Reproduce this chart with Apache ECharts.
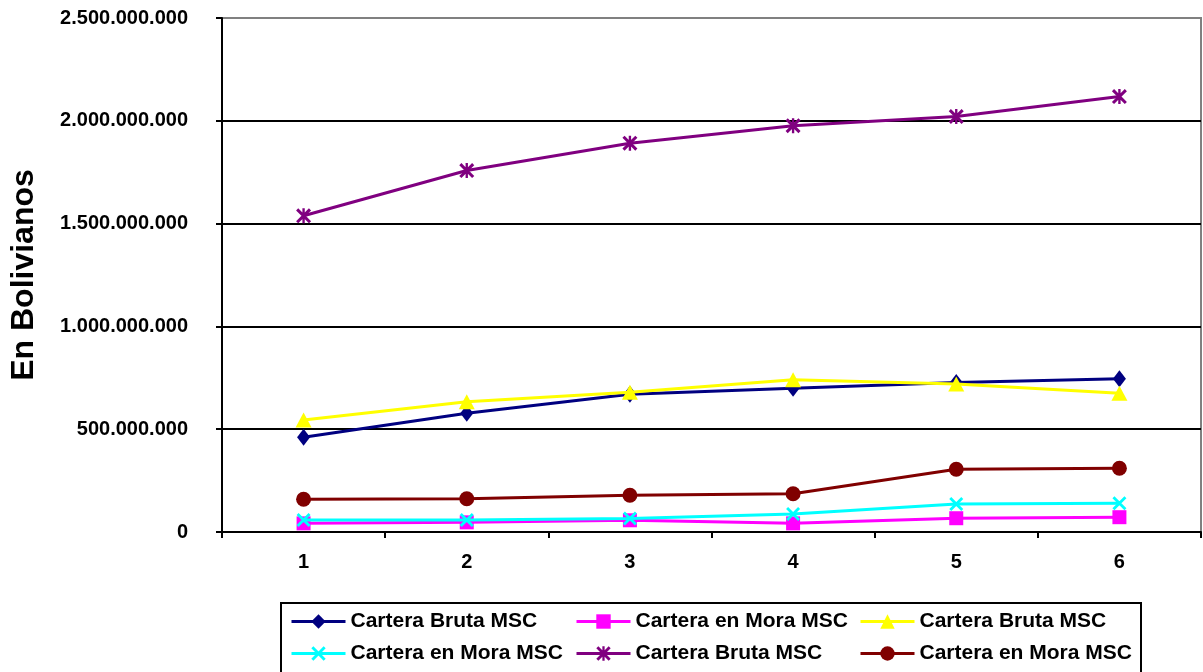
<!DOCTYPE html>
<html>
<head>
<meta charset="utf-8">
<script src="https://cdn.jsdelivr.net/npm/echarts@6/dist/echarts.min.js"></script>
<style>
html,body{margin:0;padding:0;background:#fff;}
#chart{width:1203px;height:672px;}
</style>
</head>
<body>
<div id="chart"></div>
<script>
// ---- data ----
var categories = ['1', '2', '3', '4', '5', '6'];
var seriesNames = ['Cartera Bruta MSC', 'Cartera en Mora MSC', 'Cartera Bruta MSC', 'Cartera en Mora MSC', 'Cartera Bruta MSC', 'Cartera en Mora MSC'];
var brutaNavy   = [461000000, 578000000, 670000000, 699000000, 727000000, 745000000];
var moraMagenta = [42000000, 47000000, 57000000, 42000000, 67000000, 72000000];
var brutaYellow = [545000000, 634000000, 680000000, 740000000, 720000000, 675000000];
var moraCyan    = [58000000, 58000000, 66000000, 88000000, 136000000, 140000000];
var brutaPurple = [1538000000, 1758000000, 1891000000, 1976000000, 2021000000, 2118000000];
var moraBrown   = [159000000, 162000000, 179000000, 186000000, 305000000, 310000000];
var yTitle = 'En Bolivianos';

// ---- styling ----
var FONT = '"Liberation Sans", Arial, sans-serif';
var xPath = 'path://M0,2L2,0L14,12L12,14Z M12,0L14,2L2,14L0,12Z';
var starPath = 'path://M0,2L2,0L14,12L12,14Z M12,0L14,2L2,14L0,12Z M5.9,0L8.1,0L8.1,14L5.9,14Z';
var seriesData = [brutaNavy, moraMagenta, brutaYellow, moraCyan, brutaPurple, moraBrown];
var colors = ['#000080', '#FF00FF', '#FFFF00', '#00FFFF', '#800080', '#800000'];
var symbols = ['diamond', 'rect', 'triangle', xPath, starPath, 'circle'];
var symbolSizes = [[13, 17], 14, [16, 15], 14, 15, 15];

// unique internal names (trailing spaces) so the legend can show duplicated labels
function uname(i) { return seriesNames[i] + new Array(i + 1).join(' '); }

function fmt(v) { return String(v).replace(/\B(?=(\d{3})+(?!\d))/g, '.'); }

var series = seriesData.map(function (d, i) {
  return {
    name: uname(i),
    type: 'line',
    data: d,
    symbol: symbols[i],
    symbolSize: symbolSizes[i],
    showSymbol: true,
    lineStyle: { color: colors[i], width: 3 },
    itemStyle: { color: colors[i] },
    z: 2 + i,
    animation: false
  };
});

var legendLeft = [290, 575, 859];
var legendTop = [611, 643];
var legends = seriesData.map(function (d, i) {
  return {
    data: [uname(i)],
    left: legendLeft[i % 3],
    top: legendTop[Math.floor(i / 3)],
    padding: 0,
    itemWidth: 54,
    itemHeight: 18,
    itemGap: 0,
    selectedMode: false,
    formatter: function (n) { return n.replace(/\s+$/, ''); },
    lineStyle: { width: 3 },
    textStyle: { fontFamily: FONT, fontWeight: 'bold', fontSize: 21, color: '#000', padding: [0, 0, 0, 0] }
  };
});

var chart = echarts.init(document.getElementById('chart'), null, { renderer: 'canvas' });
chart.setOption({
  backgroundColor: '#fff',
  animation: false,
  textStyle: { fontFamily: FONT },
  grid: { left: 221, top: 18, width: 980, height: 514, show: true, borderColor: '#808080', borderWidth: 2, backgroundColor: 'transparent' },
  legend: legends,
  graphic: [{
    type: 'rect',
    shape: { x: 281, y: 603, width: 860, height: 75 },
    style: { fill: 'none', stroke: '#000', lineWidth: 2 },
    z: 0
  }],
  xAxis: {
    type: 'category',
    data: categories,
    boundaryGap: true,
    axisLine: { lineStyle: { color: '#000', width: 2 } },
    axisTick: { show: true, length: 6, interval: 0, alignWithLabel: false, lineStyle: { color: '#000', width: 2 } },
    axisLabel: { margin: 20, fontFamily: FONT, fontWeight: 'bold', fontSize: 20, color: '#000' },
    splitLine: { show: false }
  },
  yAxis: {
    type: 'value',
    min: 0,
    max: 2500000000,
    interval: 500000000,
    name: yTitle,
    nameLocation: 'middle',
    nameRotate: 90,
    nameGap: 182,
    nameTextStyle: { fontFamily: FONT, fontWeight: 'bold', fontSize: 32, color: '#000' },
    axisLine: { show: true, lineStyle: { color: '#000', width: 2 } },
    axisTick: { show: true, length: 6, lineStyle: { color: '#000', width: 2 } },
    axisLabel: { margin: 34, fontFamily: FONT, fontWeight: 'bold', fontSize: 20, color: '#000', formatter: fmt },
    splitLine: { show: true, lineStyle: { color: ['#000', '#000', '#000', '#000', '#000', '#808080'], width: 2 } }
  },
  series: series
});
</script>
</body>
</html>
